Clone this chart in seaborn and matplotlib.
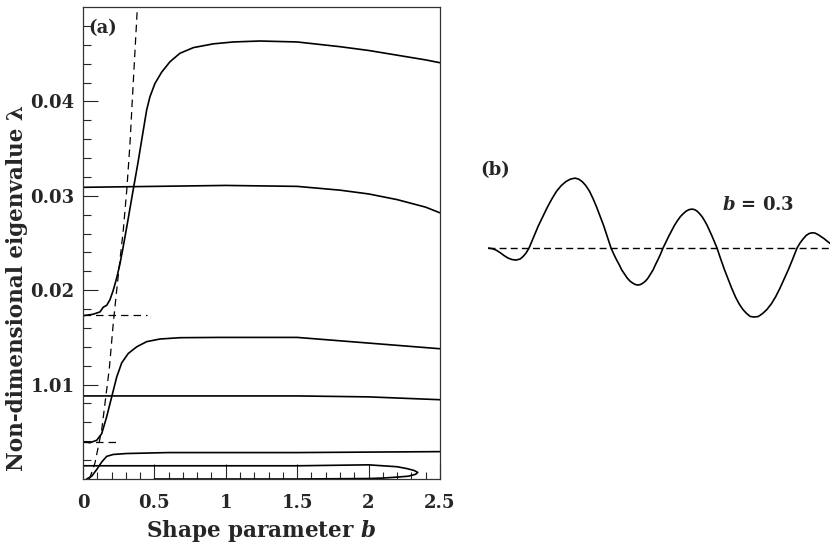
import numpy as np
import pandas as pd
import matplotlib
matplotlib.use("Agg")
import matplotlib.pyplot as plt
import seaborn as sns

# ---- data: panel (a), eigenvalue branches vs shape parameter b ----
b_top = [0, 0.07, 0.119, 0.142, 0.166, 0.189, 0.212, 0.236, 0.259, 0.278, 0.31,
         0.35, 0.385, 0.411, 0.446, 0.469, 0.504, 0.551, 0.609, 0.679, 0.773,
         0.913, 1.053, 1.24, 1.5, 1.8, 2.0, 2.2, 2.4, 2.5]
lam_top = [0.0173, 0.01745, 0.0177, 0.0182, 0.0184, 0.0190, 0.0200, 0.0213, 0.0228,
           0.0243, 0.0270, 0.0305, 0.0335, 0.0359, 0.0391, 0.0405, 0.0419, 0.0431,
           0.0442, 0.0451, 0.0457, 0.0461, 0.0463, 0.0464, 0.0463, 0.0458, 0.0454,
           0.0449, 0.0444, 0.0441]

b_2 = [0, 0.5, 1.0, 1.5, 1.8, 2.0, 2.2, 2.4, 2.5]
lam_2 = [0.0309, 0.0310, 0.0311, 0.0310, 0.0306, 0.0302, 0.0296, 0.0288, 0.0282]

b_3 = [0, 0.049, 0.096, 0.131, 0.166, 0.201, 0.236, 0.271, 0.317, 0.376, 0.446,
       0.539, 0.679, 0.96, 1.5, 2.0, 2.5]
lam_3 = [0.00395, 0.00385, 0.0041, 0.0048, 0.0066, 0.0087, 0.0108, 0.0123, 0.0133,
         0.0140, 0.01455, 0.01483, 0.01497, 0.0150, 0.0150, 0.0144, 0.0138]

b_4 = [0, 1.0, 1.5, 2.0, 2.5]
lam_4 = [0.0088, 0.0088, 0.0088, 0.0087, 0.0084]

b_5 = [0.026, 0.061, 0.096, 0.131, 0.166, 0.212, 0.306, 0.6, 1.5, 2.5]
lam_5 = [0.0, 0.0003, 0.0010, 0.0018, 0.0024, 0.0026, 0.0027, 0.0028, 0.0028, 0.0029]

# lowest branch folds back on itself near b = 2.34
b_6 = [0, 1.0, 1.5, 2.0, 2.1, 2.2, 2.27, 2.32, 2.345, 2.33, 2.28, 2.2, 2.1, 2.0,
       1.5, 0.5]
lam_6 = [0.0014, 0.0014, 0.0014, 0.0015, 0.0014, 0.0013, 0.0011, 0.0009, 0.0007,
         0.0005, 0.0003, 0.0002, 0.0001, 0.00005, 0.0, 0.0]

# dashed guide curve and horizontal guides
b_guide = [0.045, 0.084, 0.131, 0.185, 0.212, 0.236, 0.259, 0.283, 0.306, 0.329,
           0.352, 0.381]
lam_guide = [0.0, 0.0017, 0.0052, 0.0118, 0.0165, 0.0200, 0.0232, 0.0265, 0.0305,
             0.0355, 0.0420, 0.0500]
h_guides = [(0.0174, 0.45), (0.0039, 0.25)]

x_major = [0, 0.5, 1, 1.5, 2, 2.5]
x_labels = ["0", "0.5", "1", "1.5", "2", "2.5"]
y_major = [0.01, 0.02, 0.03, 0.04]
y_labels = ["1.01", "0.02", "0.03", "0.04"]

# ---- data: panel (b), mode shape for b = 0.3 ----
wave_x = [0, 4, 8, 12, 16, 20, 24, 28, 32, 35, 38, 41,
          45.6, 50.2, 54.8, 59.4, 64, 68.6, 73.2, 77.8, 82.4, 87,
          90.6, 94.2, 97.8, 101.4, 105, 108.6, 112.2, 115.8, 119.4, 123,
          125.7, 128.4, 131.1, 133.8, 136.5, 139.2, 141.9, 144.6, 147.3, 150,
          152.5, 155, 157.5, 160, 162.5, 165, 167.5, 170, 172.5, 175,
          177.9, 180.8, 183.7, 186.6, 189.5, 192.4, 195.3, 198.2, 201.1, 204,
          206.5, 209, 211.5, 214, 216.5, 219, 221.5, 224, 226.5, 229,
          232.7, 236.4, 240.1, 243.8, 247.5, 251.2, 254.9, 258.6, 262.3, 266,
          270.3, 274.6, 278.9, 283.2, 287.5, 291.8, 296.1, 300.4, 304.7, 309,
          312, 315, 318, 321, 324, 327, 330, 333, 336, 339, 342]
wave_y = [0, -0.5, -2, -4.5, -7.5, -10, -11.5, -12, -11, -8.5, -5, 0,
          11, 22, 31.5, 41, 49.5, 57, 62.5, 66.5, 69, 70,
          69, 66.5, 62.5, 57, 49.5, 41, 31.5, 22, 11, 0,
          -6, -11.5, -16.5, -22, -26, -30, -33, -35, -36.5, -37,
          -36.5, -35, -33, -30, -26, -22, -16.5, -11.5, -6, 0,
          6, 12, 17.5, 23, 27.5, 31.5, 34.5, 37, 38.5, 39,
          38.5, 37, 34.5, 31.5, 27.5, 23, 17.5, 12, 6, 0,
          -11, -21.5, -31, -40.5, -49, -56, -61.5, -65.5, -68.5, -69,
          -68.5, -65.5, -61.5, -56, -49, -40.5, -31, -21.5, -11, 0,
          5, 9, 12.5, 14.5, 15.3, 15, 13.5, 11.5, 9.5, 7, 4.7]

sns.set_style("ticks")
plt.rcParams['font.family'] = ['DejaVu Serif']
plt.rcParams['font.weight'] = 'bold'
plt.rcParams['mathtext.fontset'] = 'custom'
plt.rcParams['mathtext.it'] = 'DejaVu Serif:italic:bold'
plt.rcParams['mathtext.rm'] = 'DejaVu Serif:bold'
plt.rcParams['mathtext.bf'] = 'DejaVu Serif:bold'

fig = plt.figure(figsize=(8.3, 5.45), dpi=100)
ax = fig.add_axes([0.1, 0.1211, 0.430, 0.866])
axb = fig.add_axes([0.588, 0.3945, 0.412, 0.330])

line_kw = dict(color="black", linewidth=1.2, sort=False, estimator=None, ax=ax)
for bx, ly in [(b_top, lam_top), (b_2, lam_2), (b_3, lam_3),
               (b_4, lam_4), (b_5, lam_5), (b_6, lam_6)]:
    sns.lineplot(x=bx, y=ly, **line_kw)

sns.lineplot(x=b_guide, y=lam_guide, color="black", linewidth=0.9,
             linestyle=(0, (6, 4)), sort=False, estimator=None, ax=ax)
for lev, bend in h_guides:
    ax.plot([0, bend], [lev, lev], color="black", linewidth=0.9, linestyle=(0, (6, 4)))

ax.set_xlim(0, 2.5)
ax.set_ylim(0, 0.05)
ax.set_xticks(x_major)
ax.set_xticklabels(x_labels)
ax.set_xticks(np.arange(0, 2.51, 0.1), minor=True)
ax.set_yticks(y_major)
ax.set_yticklabels(y_labels)
ax.set_yticks(np.arange(0.002, 0.0499, 0.002), minor=True)
ax.tick_params(axis="x", which="major", direction="in", length=11, width=0.8,
               labelsize=13, pad=11)
ax.tick_params(axis="x", which="minor", direction="in", length=5, width=0.8)
ax.tick_params(axis="y", which="major", direction="in", length=11, width=0.8,
               labelsize=13, pad=6)
ax.tick_params(axis="y", which="minor", direction="in", length=6, width=0.8)
for s in ax.spines.values():
    s.set_visible(True)
    s.set_linewidth(0.9)
    s.set_color("#333333")

ax.set_xlabel("Shape parameter $b$", fontsize=15.5, fontweight="bold")
ax.set_ylabel("Non-dimensional eigenvalue λ", fontsize=15.5, fontweight="bold")
ax.xaxis.set_label_coords(0.5, -0.083)
ax.yaxis.set_label_coords(-0.155, 0.405)
ax.text(0.055, 0.955, "(a)", transform=ax.transAxes, fontsize=13,
        fontweight="bold", ha="center", va="center")

# panel (b)
sns.lineplot(x=wave_x, y=wave_y, color="black", linewidth=1.2, sort=False,
             estimator=None, ax=axb)
axb.plot([0, 342], [0, 0], color="black", linewidth=1.0, linestyle=(0, (5, 3)))
axb.set_xlim(0, 342)
axb.set_ylim(-82, 98)
axb.axis("off")
fig.text(495 / 830, 1 - 170 / 545, "(b)", fontsize=13, fontweight="bold",
         ha="center", va="center")
fig.text(758 / 830, 1 - 205 / 545, "$b$ = 0.3", fontsize=13, fontweight="bold",
         ha="center", va="center")

fig.savefig("out.png", dpi=100)
